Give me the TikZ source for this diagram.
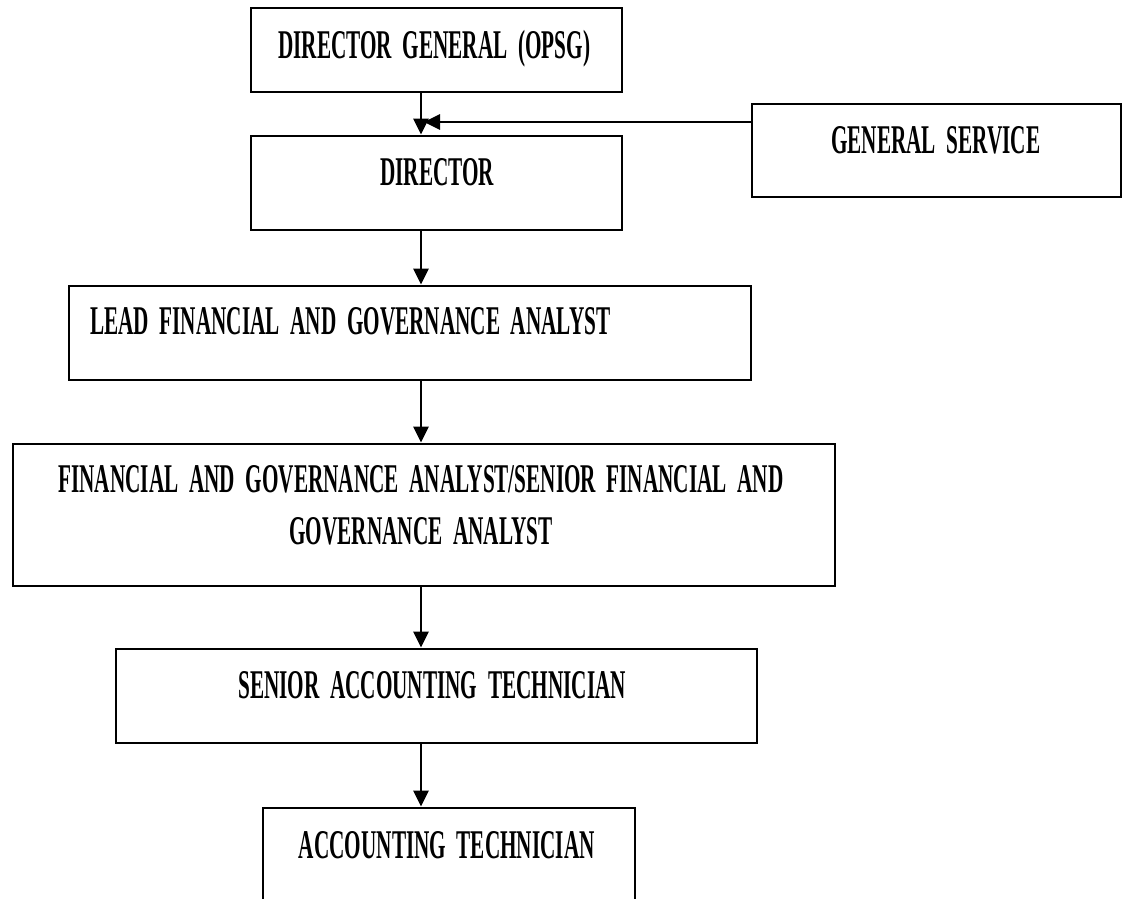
\documentclass[tikz,border=0pt]{standalone}
\usepackage{fontspec}
\newfontfamily\condfont{Liberation Serif}[FakeStretch=0.52,WordSpace=2.0]
\usetikzlibrary{arrows.meta,fit}
\begin{document}
\begin{tikzpicture}[x=1pt,y=-1pt,
  box/.style={draw=black,line width=2.8pt,inner sep=0pt,rectangle},
  lbl/.style={inner sep=0pt,font=\condfont\bfseries\fontsize{40.8}{52}\selectfont},
  arr/.style={line width=2.8pt,-{Triangle[width=15pt,length=16pt]}}]
\useasboundingbox[fill=white] (0,0) rectangle (1123,898);
% boxes
\node[box,fit={(251,8) (622,92)}] (dg) {};
\node[box,fit={(251,136) (622,230)}] (dir) {};
\node[box,fit={(752,104) (1121,197)}] (gs) {};
\node[box,fit={(69,286) (751,380)}] (lead) {};
\node[box,fit={(13,444) (835,586)}] (fga) {};
\node[box,fit={(116,649) (757,743)}] (sat) {};
\node[box,fit={(263,808) (635,930)}] (at) {};
% texts
\node[lbl,anchor=base west] (tdg) at (278,58) {DIRECTOR GENERAL (OPSG)};
\node[lbl,anchor=base west] (tdir) at (380,185) {DIRECTOR};
\node[lbl,anchor=base west] (tgs) at (831,153) {GENERAL SERVICE};
\node[lbl,anchor=base west] (tlead) at (90,334) {LEAD FINANCIAL AND GOVERNANCE ANALYST};
\node[lbl,anchor=north,align=center] (tfga) at (421,465) {FINANCIAL AND GOVERNANCE ANALYST/SENIOR FINANCIAL AND\\GOVERNANCE ANALYST};
\node[lbl,anchor=base west] (tsat) at (238,698) {SENIOR ACCOUNTING TECHNICIAN};
\node[lbl,anchor=base east] (tat) at (595,858) {ACCOUNTING TECHNICIAN};
% connectors
\coordinate (spine) at (421,0);
\coordinate (gsjoin) at (424,122);
\draw[arr] (dg.south -| spine) -- (dir.north -| spine);
\draw[arr] (gs.west |- gsjoin) -- (gsjoin);
\draw[arr] (dir.south -| spine) -- (lead.north -| spine);
\draw[arr] (lead.south -| spine) -- (fga.north -| spine);
\draw[arr] (fga.south -| spine) -- (sat.north -| spine);
\draw[arr] (sat.south -| spine) -- (at.north -| spine);
\end{tikzpicture}
\end{document}
